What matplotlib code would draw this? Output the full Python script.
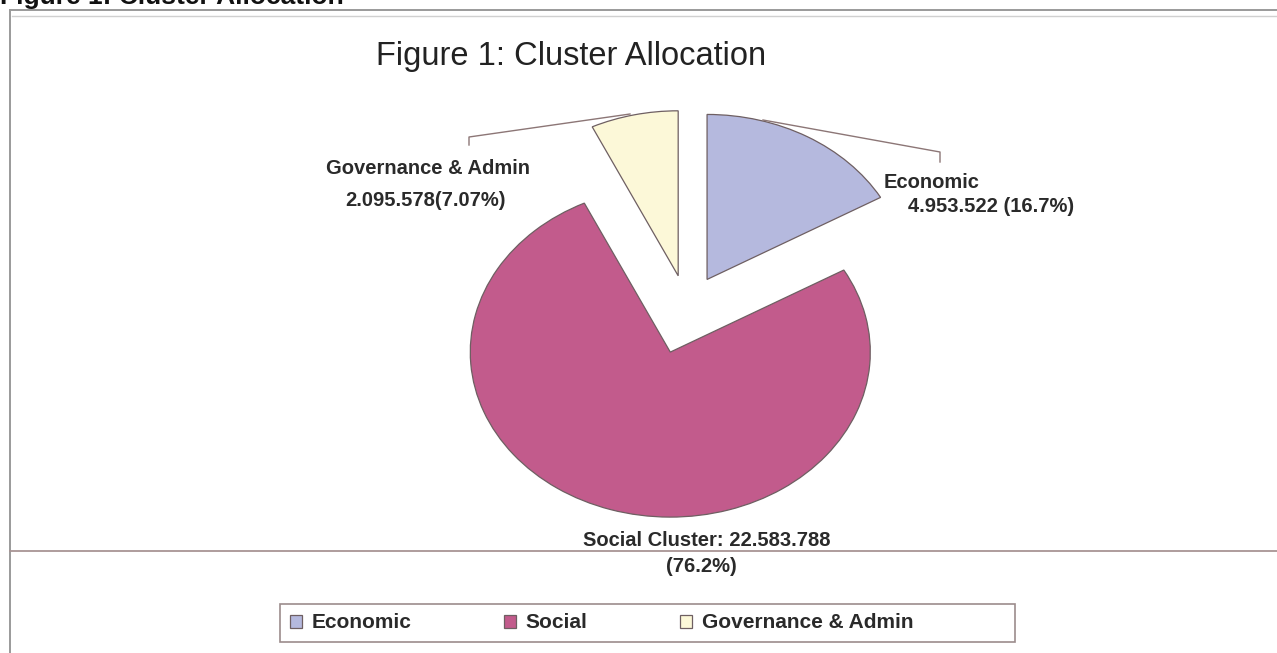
import matplotlib
matplotlib.use("Agg")
import matplotlib.pyplot as plt
from matplotlib.lines import Line2D
from matplotlib.patches import Rectangle

plt.rcParams['font.family'] = ['Liberation Sans', 'DejaVu Sans']

# cluster allocation data
clusters = ["Economic", "Social", "Governance & Admin"]
amounts = [4953522, 22583788, 2095578]
colors = ["#b5b9de", "#c25b8c", "#fcf8d8"]
explode = [0.2, 0.28, 0.2]

total = sum(amounts)
pct = [a / total * 100 for a in amounts]


def dotted(n):
    # thousands separated with dots
    return f"{n:,}".replace(",", ".")


W, H = 1277, 653
fig = plt.figure(figsize=(W / 100, H / 100), dpi=100)
fig.patch.set_facecolor("white")

# pie axes: centre at pixel (cx, cy), one unit = rx px across, ry px down
cx, cy, rx, ry = 687, 308, 200, 165
ax = fig.add_axes([0, 0, 1, 1])
wedges, _ = ax.pie(amounts, colors=colors, explode=explode, startangle=90,
                   counterclock=False,
                   wedgeprops=dict(edgecolor="#6e5f62", linewidth=0.9))
ax.set_aspect("auto")
ax.set_xlim(-cx / rx, (W - cx) / rx)
ax.set_ylim(-(H - cy) / ry, cy / ry)
ax.axis("off")

# overlay in pixel coordinates for frame, labels and leader lines
ov = fig.add_axes([0, 0, 1, 1], facecolor="none")
ov.set_xlim(0, W)
ov.set_ylim(H, 0)
ov.axis("off")

# frame lines
ov.add_line(Line2D([10, W], [10, 10], color="#9a9a9a", lw=1.4))
ov.add_line(Line2D([12, W], [16, 16], color="#d0d0d0", lw=1.0))
ov.add_line(Line2D([10, 10], [10, H], color="#9a9a9a", lw=1.4))
ov.add_line(Line2D([10, W], [551, 551], color="#a89494", lw=1.3))

# heading above frame, partly cut off
fig.text(0, 1 - 4 / H, "Figure 1: Cluster Allocation", fontsize=19,
         fontweight="bold", ha="left", va="baseline", color="#111111")

ov.text(571, 56, "Figure 1: Cluster Allocation", fontsize=23.5,
        ha="center", va="center", color="#222222")

lab_kw = dict(fontsize=14.5, fontweight="bold", color="#2a2a2a")

# leader lines
lead_col = "#8c7676"
ov.add_line(Line2D([630, 469, 469], [114, 137, 145], color=lead_col, lw=1.0))
ov.add_line(Line2D([763, 940, 940], [120, 152, 162], color=lead_col, lw=1.0))

ov.text(428, 168, clusters[2], ha="center", va="center", **lab_kw)
ov.text(426, 200, f"{dotted(amounts[2])}({pct[2]:.2f}%)", ha="center",
        va="center", **lab_kw)

ov.text(884, 182, clusters[0], ha="left", va="center", **lab_kw)
ov.text(908, 207, f"{dotted(amounts[0])} ({pct[0]:.1f}%)", ha="left",
        va="center", **lab_kw)

ov.text(707, 541, f"Social Cluster: {dotted(amounts[1])}", ha="center",
        va="center", **lab_kw)
ov.text(701, 567, f"({pct[1]:.1f}%)", ha="center", va="center", **lab_kw)

# legend box drawn separately, entries sit left inside it
ov.add_patch(Rectangle((280, 604), 735, 38, fill=False,
                       edgecolor="#9c8c8c", linewidth=1.2))
leg = ov.legend(wedges, ["Economic", "Social", "Governance & Admin"],
                loc="center left", bbox_to_anchor=(290 / W, 1 - 623 / H),
                bbox_transform=fig.transFigure, ncol=3, frameon=False,
                fontsize=15, handlelength=0.58, handleheight=0.58,
                handletextpad=0.45, columnspacing=4.45, borderpad=0,
                borderaxespad=0)
for t in leg.get_texts():
    t.set_fontweight("bold")
    t.set_color("#2a2a2a")

fig.savefig("out.png", dpi=100)
